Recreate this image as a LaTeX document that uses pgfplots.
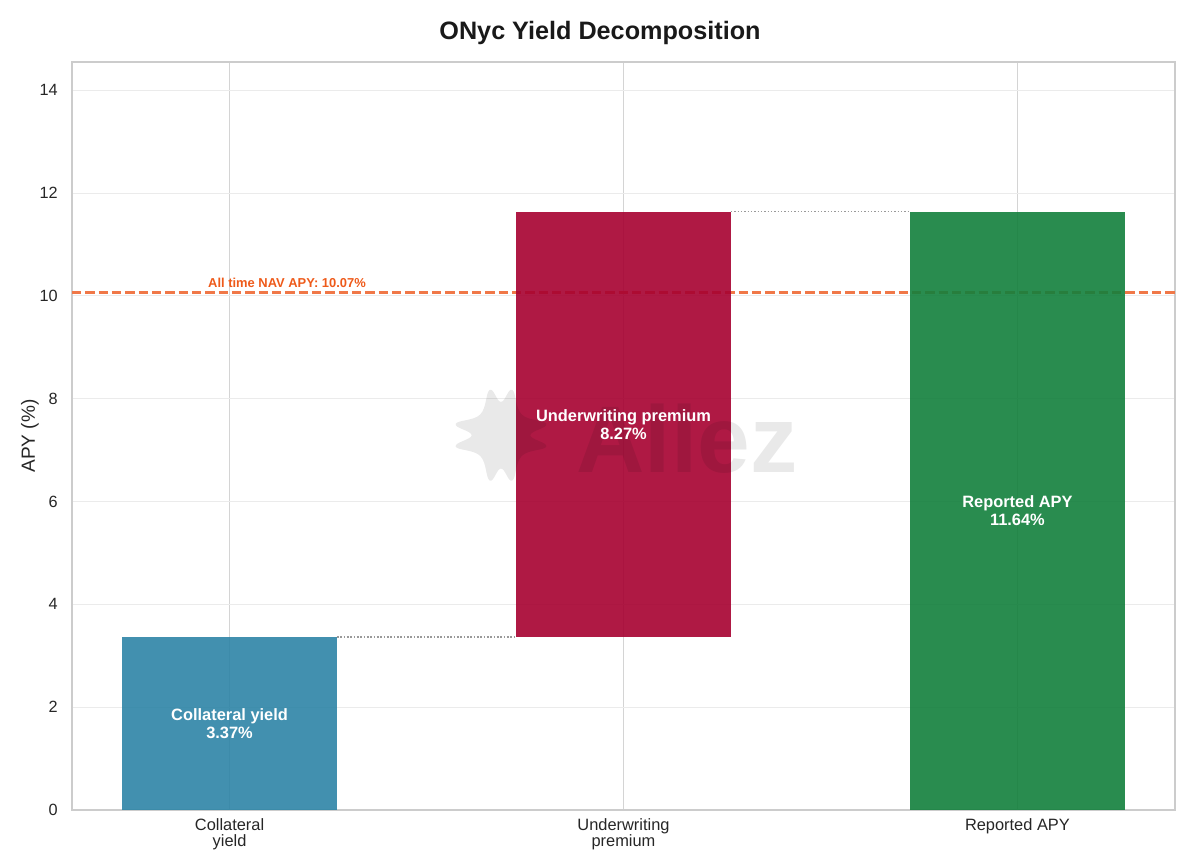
\documentclass[border=0pt]{standalone}
\usepackage{pgfplots}
\pgfplotsset{compat=1.18}
\usetikzlibrary{calc}
\usepackage{fontspec}
\setmainfont{Liberation Sans}
\definecolor{cblue}{HTML}{2D84A6}
\definecolor{cred}{HTML}{A60030}
\definecolor{cgreen}{HTML}{127F3C}
\definecolor{navline}{HTML}{F07848}
\definecolor{navtext}{HTML}{EE5A1A}
\definecolor{framegray}{HTML}{CCCCCC}
\definecolor{vgrid}{HTML}{D4D4D4}
\definecolor{hgrid}{HTML}{EBEBEB}
\definecolor{dotgray}{HTML}{9A9A9A}
\definecolor{txt}{HTML}{262626}
\begin{document}
\begin{tikzpicture}
\path[use as bounding box] (-54pt,-42.75pt) rectangle (846pt,607.5pt);
\begin{axis}[
  at={(0,0)}, anchor=south west,
  scale only axis, width=827.25pt, height=561pt,
  xmin=-0.4, xmax=2.4, ymin=0, ymax=14.55,
  ybar stacked, bar width=0.545,
  xtick={0,1,2},
  xticklabels={Collateral\\yield, Underwriting\\premium, Reported APY},
  ytick={0,2,...,14},
  /pgf/number format/assume math mode=true,
  major tick length=0pt,
  xmajorgrids, ymajorgrids,
  x grid style={vgrid, line width=0.75pt},
  y grid style={hgrid, line width=0.75pt},
  axis line style={framegray, line width=0.9pt},
  xticklabel style={align=center, inner sep=0pt, anchor=north, yshift=-6pt,
    font=\fontsize{12.3}{12.5}\selectfont, text=txt},
  yticklabel style={inner sep=0pt, anchor=east, xshift=-10.5pt,
    font=\fontsize{12.2}{14}\selectfont, text=txt},
  clip=true,
]
% invisible base of the floating bar
\addplot[draw=none, fill=none, forget plot] coordinates {(0,0) (1,3.37) (2,0)};
\addplot[draw=none, fill=cblue, fill opacity=0.9] coordinates {(0,3.37) (1,0) (2,0)};
\addplot[draw=none, fill=cred, fill opacity=0.9] coordinates {(0,0) (1,8.27) (2,0)};
\addplot[draw=none, fill=cgreen, fill opacity=0.9] coordinates {(0,0) (1,0) (2,11.64)};
% connectors
\addplot[sharp plot, stack plots=false, dotgray, line width=1.2pt, dash pattern=on 1.2pt off 1.3pt]
  coordinates {(0.2725,3.37) (0.7275,3.37)};
\addplot[sharp plot, stack plots=false, dotgray, line width=1.2pt, dash pattern=on 1.2pt off 1.3pt]
  coordinates {(1.2725,11.64) (1.7275,11.64)};
% NAV line
\addplot[sharp plot, stack plots=false, navline, line width=2.25pt, dash pattern=on 7pt off 3pt]
  coordinates {(-0.4,10.07) (2.4,10.07)};
\node[anchor=base west, inner sep=0pt, yshift=3.75pt, text=navtext,
  font=\fontsize{9.7}{11}\selectfont\bfseries] at (axis cs:-0.055,10.07) {All time NAV APY: 10.07\%};
\coordinate (logo) at (axis cs:0.689,7.29);
\coordinate (wm) at (axis cs:1.161,7.23);
\coordinate (l0) at (axis cs:0,1.685);
\coordinate (l1) at (axis cs:1,7.505);
\coordinate (l2) at (axis cs:2,5.82);
\end{axis}
% watermark
\fill[black, fill opacity=0.085]
  plot[smooth cycle, tension=0.7] coordinates {
    ($(logo)+(0:22pt)$) ($(logo)+(14:35pt)$) ($(logo)+(45:22pt)$) ($(logo)+(76:35pt)$)
    ($(logo)+(90:25pt)$) ($(logo)+(104:35pt)$) ($(logo)+(135:22pt)$) ($(logo)+(166:35pt)$)
    ($(logo)+(180:22pt)$) ($(logo)+(194:35pt)$) ($(logo)+(225:22pt)$) ($(logo)+(256:35pt)$)
    ($(logo)+(270:25pt)$) ($(logo)+(284:35pt)$) ($(logo)+(315:22pt)$) ($(logo)+(346:35pt)$)
  };
\node[text=black, text opacity=0.085, font=\fontsize{71}{71}\selectfont\bfseries, inner sep=0pt] at (wm) {Allez};
% bar labels
\node[text=white, align=center, font=\fontsize{12.3}{13}\selectfont\bfseries] at (l0) {Collateral yield\\[0.5pt]3.37\%};
\node[text=white, align=center, font=\fontsize{12.3}{13}\selectfont\bfseries] at (l1) {Underwriting premium\\[0.5pt]8.27\%};
\node[text=white, align=center, font=\fontsize{12.3}{13}\selectfont\bfseries] at (l2) {Reported APY\\[0.5pt]11.64\%};
% title and y label
\node[font=\fontsize{18.9}{20}\selectfont\bfseries, text=black!90] at (396pt,582.75pt) {ONyc Yield Decomposition};
\node[rotate=90, font=\fontsize{14.3}{16}\selectfont, text=txt] at (-31.5pt,280.5pt) {APY (\%)};
\end{tikzpicture}
\end{document}
